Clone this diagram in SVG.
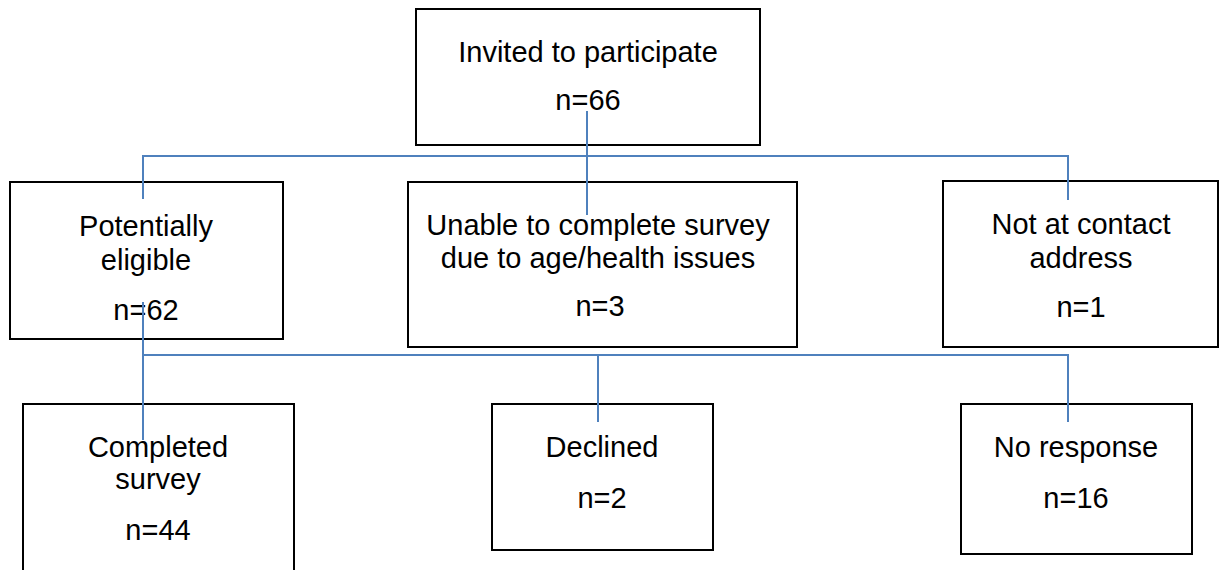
<svg xmlns="http://www.w3.org/2000/svg" width="1221" height="570" viewBox="0 0 1221 570">
<style>
.box{fill:#fff;stroke:#000;stroke-width:2}
.t{font-family:"Liberation Sans",Arial,sans-serif;font-size:29px;fill:#000;text-anchor:middle}
.c{fill:none;stroke:#4F81BD;stroke-width:2}
</style>
<rect width="1221" height="570" fill="#fff"/>
<g id="n-invited">
<rect class="box" x="416" y="9" width="344" height="136"/>
<text class="t" x="588" y="62">Invited to participate</text>
<text class="t" x="588" y="110">n=66</text>
</g>
<g id="n-eligible">
<rect class="box" x="10" y="182" width="273" height="157"/>
<text class="t" x="146" y="236">Potentially</text>
<text class="t" x="146" y="270">eligible</text>
<text class="t" x="146" y="320">n=62</text>
</g>
<g id="n-unable">
<rect class="box" x="408" y="182" width="389" height="165"/>
<text class="t" x="598" y="235">Unable to complete survey</text>
<text class="t" x="598" y="268">due to age/health issues</text>
<text class="t" x="600" y="316">n=3</text>
</g>
<g id="n-notat">
<rect class="box" x="943" y="181" width="275" height="166"/>
<text class="t" x="1081" y="234">Not at contact</text>
<text class="t" x="1081" y="268">address</text>
<text class="t" x="1081" y="317">n=1</text>
</g>
<g id="n-completed">
<rect class="box" x="23" y="404" width="271" height="180"/>
<text class="t" x="158" y="457">Completed</text>
<text class="t" x="158" y="489">survey</text>
<text class="t" x="158" y="540">n=44</text>
</g>
<g id="n-declined">
<rect class="box" x="492" y="404" width="221" height="146"/>
<text class="t" x="602" y="457">Declined</text>
<text class="t" x="602" y="508">n=2</text>
</g>
<g id="n-noresponse">
<rect class="box" x="961" y="404" width="231" height="150"/>
<text class="t" x="1076" y="457">No response</text>
<text class="t" x="1076" y="508">n=16</text>
</g>
<g id="connectors">
<path class="c" d="M587 111V215M143 199V156H1068V200"/>
<path class="c" d="M143 302V440M143 355H1068V422M598 355V422"/>
</g>
</svg>
